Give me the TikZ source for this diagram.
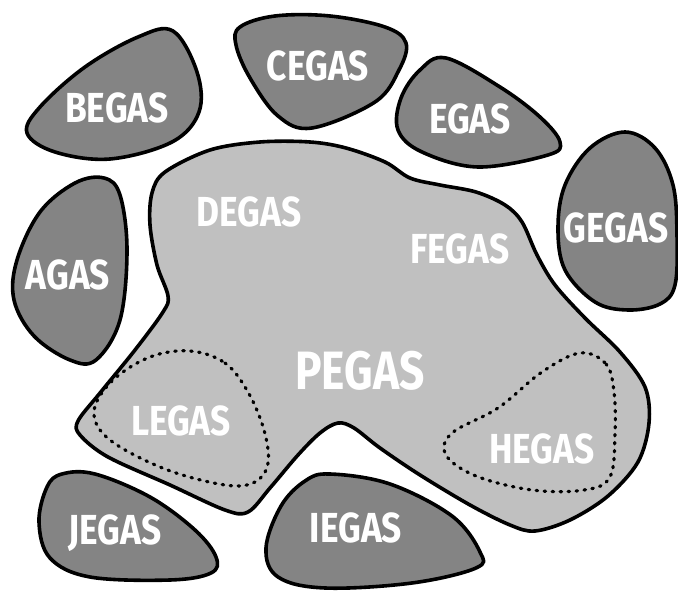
\documentclass[tikz,border=0pt]{standalone}
\usepackage{fontspec}
\setmainfont{Fira Sans}
\begin{document}
\begin{tikzpicture}[x=1pt,y=-1pt,
  blob/.style={draw=black,line width=3.6pt,fill=darkblob,line join=round},
  bigblob/.style={draw=black,line width=3.6pt,fill=lightblob,line join=round},
  dotted region/.style={draw=black,line width=3.2pt,dash pattern=on 1.5pt off 6.5pt,line cap=round},
  lbl/.style={text=white,font=\bfseries\fontsize{42}{42}\selectfont,xscale=0.84,inner sep=0pt},
  biglbl/.style={text=white,font=\bfseries\fontsize{54}{54}\selectfont,xscale=0.82,inner sep=0pt}]
\definecolor{darkblob}{RGB}{132,132,132}
\definecolor{lightblob}{RGB}{192,192,192}
\useasboundingbox[fill=white] (0,0) rectangle (678,593);

% main region
\draw[bigblob] plot[smooth cycle,tension=0.55] coordinates {
 (165,172) (210,150) (260,142) (310,142) (346,148) (385,162) (410,178) (440,185) (476,192)
 (505,205) (522,222) (537,255) (555,285) (585,318) (620,352) (645,387) (649,423) (638,462)
 (608,496) (570,520) (535,531) (510,525) (470,505) (420,475) (380,448) (354,428) (338,423)
 (320,433) (298,455) (270,488) (248,512) (225,510) (170,485) (108,457) (80,435) (78,421)
 (100,393) (135,350) (163,312) (168,296) (157,265) (150,225) (152,193)};

% dashed sub-regions
\draw[dotted region] plot[smooth cycle,tension=0.6] coordinates {
 (190,351) (225,363) (248,392) (264,430) (268,463) (255,482) (225,485) (165,469)
 (110,440) (94,412) (112,381) (150,357)};
\draw[dotted region] plot[smooth cycle,tension=0.6] coordinates {
 (580,353) (606,364) (614,392) (615,433) (610,477) (584,490) (532,490) (476,476)
 (446,455) (452,433) (498,408) (542,372)};

% outer blobs
\draw[blob] plot[smooth cycle,tension=0.6] coordinates {
 (173,31) (197,72) (199,112) (172,142) (110,159) (55,152) (27,133) (40,107) (85,67) (138,37)};
\draw[blob] plot[smooth cycle,tension=0.6] coordinates {
 (240,27) (275,16) (330,16) (385,27) (406,43) (399,70) (375,102) (312,128) (278,116) (250,78) (236,45)};
\draw[blob] plot[smooth cycle,tension=0.6] coordinates {
 (446,58) (500,87) (540,117) (560,142) (548,155) (478,167) (422,152) (398,130) (401,98) (420,70)};
\draw[blob] plot[smooth cycle,tension=0.6] coordinates {
 (625,132) (655,148) (673,185) (677,235) (675,285) (660,304) (628,310) (595,302) (565,270)
 (558,228) (565,185) (590,148)};
\draw[blob] plot[smooth cycle,tension=0.6] coordinates {
 (104,178) (120,195) (127,250) (120,320) (96,360) (70,360) (34,336) (14,300) (17,260) (40,212) (75,183)};
\draw[blob] plot[smooth cycle,tension=0.6] coordinates {
 (62,474) (95,474) (150,497) (195,530) (216,557) (211,573) (170,580) (90,577) (50,558) (39,522) (47,487)};
\draw[blob] plot[smooth cycle,tension=0.6] coordinates {
 (330,474) (390,484) (452,516) (480,552) (476,568) (412,583) (325,588) (278,577) (266,548) (281,506) (305,481)};

% labels
\node[lbl] (begas) at (117,108) {BEGAS};
\node[lbl] (cegas) at (318,66) {CEGAS};
\node[lbl] (egas) at (470,119) {EGAS};
\node[lbl] (gegas) at (616,228) {GEGAS};
\node[lbl] (degas) at (249,212) {DEGAS};
\node[lbl] (fegas) at (460,249) {FEGAS};
\node[lbl] (agas) at (68,275) {AGAS};
\node[biglbl] (pegas) at (360,371) {PEGAS};
\node[lbl] (legas) at (181,421) {LEGAS};
\node[lbl] (hegas) at (542,449) {HEGAS};
\node[lbl] (jegas) at (115,533) {JEGAS};
\node[lbl] (iegas) at (356,528) {IEGAS};
\end{tikzpicture}
\end{document}
